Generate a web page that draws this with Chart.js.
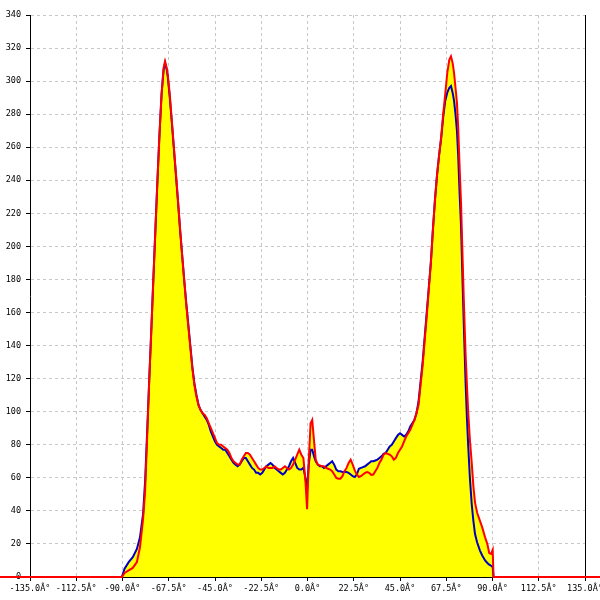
<!DOCTYPE html>
<html>
<head>
<meta charset="utf-8">
<script src="https://cdn.jsdelivr.net/npm/chart.js@4.4.1/dist/chart.umd.min.js"></script>
<style>
  html, body { margin: 0; padding: 0; background: #fff; }
  #wrap { width: 600px; height: 600px; }
</style>
</head>
<body>
<div id="wrap"><canvas id="distChart" width="600" height="600"></canvas></div>
<script>
// angle positions (degrees) shared by both series
const angles = [
  -150, -90.3, -89, -87, -85, -83, -81.5, -80, -79, -78,
  -77, -76, -75, -74, -73, -72, -71, -70, -69.3, -68.5,
  -68, -67, -66, -65, -64, -63, -62, -61, -60, -59,
  -58, -57, -56, -55, -54, -53, -52, -51, -50, -49,
  -48, -47, -46, -45, -44, -43, -42, -41, -40, -39,
  -38, -37, -36, -35, -34, -33, -32, -31, -30, -29,
  -28, -27, -26, -25, -24, -23, -22, -21, -20, -19,
  -18, -17, -16, -15, -14, -13, -12, -11, -10, -9,
  -8, -7, -6, -5, -4, -3, -2, -1, -0.2, 0.6,
  1.5, 2.3, 3.2, 4, 5, 6, 7, 8, 9, 10,
  11, 12, 13, 14, 15, 16, 17, 18, 19, 20,
  21, 22, 23, 24, 25, 26, 27, 28, 29, 30,
  31, 32, 33, 34, 35, 36, 37, 38, 39, 40,
  41, 42, 43, 44, 45, 46, 47, 48, 49, 50,
  51, 52, 53, 54, 55, 56, 57, 58, 59, 60,
  61, 62, 63, 64, 65, 66, 67, 68, 69, 69.8,
  70.6, 71.3, 72, 72.7, 73.3, 74, 74.7, 75.4, 76.1, 76.9,
  77.6, 78.2, 79, 79.9, 80.7, 81.5, 82.5, 83.9, 85, 86.4,
  87.5, 88.4, 89.3, 90.1, 90.5, 150
];

const blueVals = [
  0, 0, 5, 9, 12, 17, 24, 38, 58, 88,
  119, 149, 180, 210, 240, 268, 292, 307, 311, 307,
  303, 290, 275, 259, 243, 227, 210, 195, 180, 166,
  153, 140, 127, 117, 110, 104, 101, 99, 97, 95,
  92, 88, 85, 82, 80, 79, 78, 77, 77, 75,
  73, 71, 69, 68, 67, 68, 70, 72, 72, 70,
  68, 66, 65, 63, 63, 62, 63, 65, 67, 68,
  69, 68, 66, 65, 64, 63, 62, 63, 65, 67,
  70, 72, 69, 66, 65, 65, 66, 60, 53, 68,
  77, 77, 73, 70, 68, 67, 67, 66, 67, 68,
  69, 70, 68, 65, 64, 64, 63.5, 63.5, 63.5, 63,
  62, 61, 60.5, 62, 65.5, 66, 66.5, 67, 68, 69,
  70, 70, 70.5, 71, 72, 73, 74.5, 75, 77, 79,
  80, 82, 84, 86, 87, 86, 85, 86, 88, 91,
  93, 95, 99, 106, 118, 130, 145, 160, 175, 190,
  210, 228, 243, 255, 265, 278, 288, 293, 296, 297,
  293, 288, 280, 270, 255, 232, 212, 180, 150, 118,
  95, 79, 60, 44, 34, 26, 21, 16, 13, 10,
  8.5, 7.5, 6.8, 6, 0, 0
];

const redVals = [
  0, 0, 2.5, 4, 5.5, 9, 18, 35, 52, 85,
  119, 149, 180, 210, 240, 268, 292, 308, 312, 308,
  304, 292, 276, 260, 244, 228, 211, 195, 180, 165,
  152, 139, 126, 116, 109, 104, 101, 99, 98, 96,
  93, 90, 87, 84, 81, 80, 80, 79, 78, 77,
  75, 72, 70, 69, 68, 68, 71, 73, 75, 75,
  74, 72, 70, 68, 66, 65, 65, 66, 67, 66,
  66, 66, 67, 66, 65, 65, 66, 67, 66, 65,
  66, 68, 71, 74, 77, 74, 72, 58, 41, 70,
  93, 95, 82, 71, 68, 67.5, 67, 67, 66, 65.5,
  65, 64, 62, 60, 59.5, 59.5, 61, 64, 66, 69,
  71, 68, 64.5, 62, 60.5, 61, 62, 63, 63.5, 63,
  61.7, 62, 64, 66, 69, 71, 74, 75, 74.5, 74,
  73, 71, 72, 75, 77, 79, 82, 85, 87, 89,
  92, 95, 99, 104, 116, 128, 143, 158, 174, 190,
  210, 228, 243, 255, 266, 280, 292, 305, 313, 315,
  311, 305, 296, 287, 272, 248, 226, 195, 165, 135,
  115, 99, 83, 69, 55, 45, 39, 34, 30, 24,
  20, 14.5, 14, 16.5, 0, 0
];

const xTickValues = [-135, -112.5, -90, -67.5, -45, -22.5, 0, 22.5, 45, 67.5, 90, 112.5, 135];
const yTickValues = [0, 20, 40, 60, 80, 100, 120, 140, 160, 180, 200, 220, 240, 260, 280, 300, 320, 340];

const tickFont = { family: 'DejaVu Sans Mono', size: 8.5 };

function toPoints(vals) {
  return angles.map((a, i) => ({ x: a, y: vals[i] }));
}

const ctx = document.getElementById('distChart').getContext('2d');

// red is listed first so it is painted on top of blue
new Chart(ctx, {
  type: 'line',
  data: {
    datasets: [
      {
        label: 'red',
        data: toPoints(redVals),
        borderColor: '#ff0000',
        backgroundColor: '#ffff00',
        borderWidth: 2,
        fill: 'origin',
        pointRadius: 0,
        tension: 0,
        clip: false
      },
      {
        label: 'blue',
        data: toPoints(blueVals),
        borderColor: '#0000c0',
        backgroundColor: '#ffff00',
        borderWidth: 2,
        fill: 'origin',
        pointRadius: 0,
        tension: 0,
        clip: false
      }
    ]
  },
  options: {
    responsive: false,
    animation: false,
    layout: { padding: { top: 15, right: 15, left: 0, bottom: 0 } },
    plugins: {
      legend: { display: false },
      tooltip: { enabled: false },
      filler: { drawTime: 'beforeDatasetsDraw' }
    },
    scales: {
      x: {
        type: 'linear',
        min: -135,
        max: 135,
        afterBuildTicks: s => { s.ticks = xTickValues.map(v => ({ value: v })); },
        afterFit: s => { s.height = 23; s.paddingLeft = 0; s.paddingRight = 0; },
        ticks: {
          autoSkip: false,
          maxRotation: 0,
          padding: 3,
          color: '#000',
          font: tickFont,
          callback: v => Number(v).toFixed(1) + '\u00C2\u00B0'
        },
        grid: { color: '#c8c8c8', tickColor: '#000', tickLength: 4 },
        border: { color: '#000', width: 1, dash: [3, 3] }
      },
      y: {
        min: 0,
        max: 340,
        afterBuildTicks: s => { s.ticks = yTickValues.map(v => ({ value: v })); },
        afterFit: s => { s.width = 30; s.paddingTop = 0; s.paddingBottom = 0; },
        ticks: { padding: 5, color: '#000', font: tickFont },
        grid: { color: '#c8c8c8', tickColor: '#000', tickLength: 4 },
        border: { color: '#000', width: 1, dash: [3, 3] }
      },
      y2: {
        position: 'right',
        min: 0,
        max: 340,
        afterFit: s => { s.width = 0; s.paddingTop = 0; s.paddingBottom = 0; },
        ticks: { display: false },
        grid: { display: false, drawTicks: false },
        border: { color: '#000', width: 1 }
      }
    }
  }
});
</script>
</body>
</html>
